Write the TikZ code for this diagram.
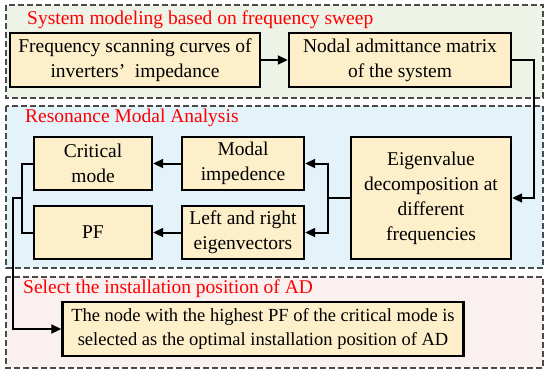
\documentclass[tikz,border=0pt]{standalone}
\usepackage{fontspec}
\setmainfont{Liberation Serif}
\usetikzlibrary{arrows.meta}
\definecolor{boxfill}{HTML}{FCEFCA}
\definecolor{panelA}{HTML}{EEF3E7}
\definecolor{panelB}{HTML}{E4F3F9}
\definecolor{panelC}{HTML}{FBF0F0}
\definecolor{dashgray}{HTML}{4A4A4A}

\begin{document}
\begin{tikzpicture}[x=1pt,y=-1pt,>={Triangle[length=10pt,width=9pt]},
  panel/.style={draw=dashgray,line width=1.3pt,dash pattern=on 6pt off 3pt},
  ttl/.style={anchor=west,inner sep=0pt,text=red,font=\fontsize{19.5}{24}\selectfont},
  blk/.style={draw,line width=2.4pt,fill=boxfill,align=center,inner sep=2pt,
    font=\fontsize{19.5}{25}\selectfont},
  link/.style={line width=2pt}]
\useasboundingbox (0,0) rectangle (550,376);
% panels
\path[panel,fill=panelA] (6,5) rectangle (543,98);
\path[panel,fill=panelB] (6,106) rectangle (543,268);
\path[panel,fill=panelC] (6,277) rectangle (543,368);
\node[ttl] (t1) at (27,20) {System modeling based on frequency sweep};
\node[ttl] (t2) at (25,118) {Resonance Modal Analysis};
\node[ttl] (t3) at (23,289) {Select the installation position of AD};
% boxes
\node[blk,minimum width=250pt,minimum height=54pt] (scan) at (135,60)
  {Frequency scanning curves of\\inverters’\ \ impedance};
\node[blk,minimum width=222pt,minimum height=54pt] (nodal) at (400,60)
  {Nodal admittance matrix\\of the system};
\node[blk,minimum width=118pt,minimum height=53pt] (crit) at (93,163.5) {Critical\\mode};
\node[blk,minimum width=118pt,minimum height=53pt] (pf) at (93,232.5) {PF};
\node[blk,minimum width=122pt,minimum height=53pt] (modal) at (243,163.5) {Modal\\impedence};
\node[blk,minimum width=122pt,minimum height=53pt] (eigv) at (243,232.5) {Left and right\\eigenvectors};
\node[blk,minimum width=160pt,minimum height=122pt] (eig) at (431,198)
  {Eigenvalue\\decomposition at\\different\\frequencies};
\node[blk,minimum width=401pt,minimum height=54pt,font=\fontsize{18.5}{24}\selectfont] (sel) at (263,329)
  {The node with the highest PF of the critical mode is\\selected as the optimal installation position of AD};
% connectors
\coordinate (rt) at (534,198);
\coordinate (sp) at (328,198);
\coordinate (jn) at (22,198);
\coordinate (lf) at (13,198);
\draw[link,->] (scan) -- (nodal);
\draw[link,->] (nodal.east) -| (rt) -- (eig.east);
\draw[link] (eig.west) -- (sp);
\draw[link,->] (sp) |- (modal.east);
\draw[link,->] (sp) |- (eigv.east);
\draw[link,->] (modal) -- (crit);
\draw[link,->] (eigv) -- (pf);
\draw[link] (crit.west) -| (jn) |- (pf.west);
\draw[link,->] (jn) -- (lf) |- (sel.west);
\end{tikzpicture}
\end{document}
